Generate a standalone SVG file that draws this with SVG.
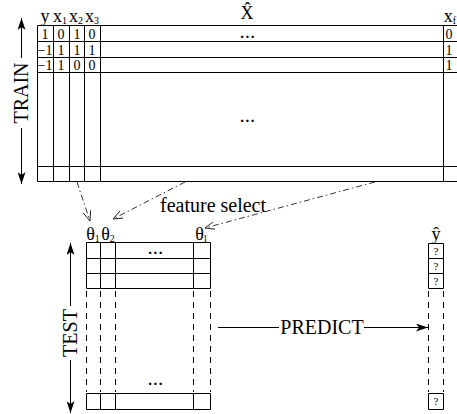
<svg xmlns="http://www.w3.org/2000/svg" width="457" height="414" viewBox="0 0 457 414">
<defs>
<marker id="ah" viewBox="0 0 12 8" refX="12" refY="4" markerWidth="12" markerHeight="8" markerUnits="userSpaceOnUse" orient="auto">
<path d="M0,0 L12,4 L0,8 L3,4 Z" fill="#000"/>
</marker>
<marker id="av" viewBox="0 0 10 8" refX="10" refY="4" markerWidth="10" markerHeight="8" markerUnits="userSpaceOnUse" orient="auto">
<path d="M0,0 L10,4 L0,8" fill="none" stroke="#000" stroke-width="0.8"/>
</marker>
</defs>
<style>
.g{stroke:#000;stroke-width:1;fill:none}
.d{stroke:#000;stroke-width:1;fill:none;stroke-dasharray:6,5}
.dd{stroke:#000;stroke-width:0.8;fill:none;stroke-dasharray:6,3,1.5,3}
.a{stroke:#000;stroke-width:1;fill:none;marker-end:url(#ah)}
text{font-family:"Liberation Serif","Times New Roman",serif;fill:#000}
.h{font-size:18px;text-anchor:middle}
.n{font-size:14px;text-anchor:middle}
.e{font-size:15px;font-weight:bold;text-anchor:middle;letter-spacing:1.5px}
.q{font-size:11px;text-anchor:middle}
.l{font-size:20px}
.s{font-size:10px}
</style>

<g id="train">
<path class="g" d="M37.5,25.5 H457 M37.5,41.5 H457 M37.5,57.5 H457 M37.5,72.5 H457 M37.5,166.5 H457 M37.5,181.5 H457"/>
<path class="g" d="M37.5,25.5 V181.5 M53.5,25.5 V181.5 M69.5,25.5 V181.5 M84.5,25.5 V181.5 M100.5,25.5 V181.5 M443.5,25.5 V181.5"/>
<text class="h" x="45" y="22" font-family="Liberation Serif, serif">y</text>
<text class="h" x="60" y="22" font-family="Liberation Serif, serif">x<tspan class="s" dy="2">1</tspan></text>
<text class="h" x="76" y="22" font-family="Liberation Serif, serif">x<tspan class="s" dy="2">2</tspan></text>
<text class="h" x="92" y="22" font-family="Liberation Serif, serif">x<tspan class="s" dy="2">3</tspan></text>
<text class="h" x="450" y="22" font-family="Liberation Serif, serif">x<tspan class="s" dy="2">f</tspan></text>
<text class="h" x="247" y="19" font-family="Liberation Serif, serif">X̂</text>
<text class="e" x="248" y="38" font-family="Liberation Serif, serif">...</text>
<text class="e" x="248" y="122" font-family="Liberation Serif, serif">...</text>
<text class="n" x="45" y="39">1</text><text class="n" x="61" y="39">0</text><text class="n" x="77" y="39">1</text><text class="n" x="92" y="39">0</text><text class="n" x="449" y="39">0</text>
<text class="n" x="45" y="55">−1</text><text class="n" x="61" y="55">1</text><text class="n" x="77" y="55">1</text><text class="n" x="92" y="55">1</text><text class="n" x="449" y="55">1</text>
<text class="n" x="45" y="70">−1</text><text class="n" x="61" y="70">1</text><text class="n" x="77" y="70">0</text><text class="n" x="92" y="70">0</text><text class="n" x="449" y="70">1</text>
</g>

<g id="train-label">
<line class="a" x1="21.5" y1="58" x2="21.5" y2="18"/>
<line class="a" x1="21.5" y1="128" x2="21.5" y2="184"/>
<text class="l" transform="translate(28,93) rotate(-90)" text-anchor="middle" font-family="Liberation Serif, serif">TRAIN</text>
</g>

<g id="test">
<path class="g" d="M86.5,242.5 H210.5 M86.5,258.5 H210.5 M86.5,273.5 H210.5 M86.5,288.5 H210.5 M86.5,393.5 H210.5 M86.5,409.5 H210.5"/>
<path class="g" d="M86.5,242.5 V288.5 M100.5,242.5 V288.5 M115.5,242.5 V288.5 M193.5,242.5 V288.5 M210.5,242.5 V288.5"/>
<path class="g" d="M86.5,393.5 V409.5 M100.5,393.5 V409.5 M115.5,393.5 V409.5 M193.5,393.5 V409.5 M210.5,393.5 V409.5"/>
<path class="d" d="M86.5,291 V392 M100.5,291 V392 M115.5,291 V392 M193.5,291 V392 M210.5,291 V392"/>
<text class="h" x="93" y="240" font-family="Liberation Serif, serif">θ<tspan class="s" dy="2">1</tspan></text>
<text class="h" x="108" y="240" font-family="Liberation Serif, serif">θ<tspan class="s" dy="2">2</tspan></text>
<text class="h" x="201" y="240" font-family="Liberation Serif, serif">θ<tspan class="s" dy="2">l</tspan></text>
<text class="e" x="156" y="254" font-family="Liberation Serif, serif">...</text>
<text class="e" x="156" y="385" font-family="Liberation Serif, serif">...</text>
</g>

<g id="test-label">
<line class="a" x1="70.5" y1="306" x2="70.5" y2="243"/>
<line class="a" x1="70.5" y1="360" x2="70.5" y2="413"/>
<text class="l" transform="translate(77,333) rotate(-90)" text-anchor="middle" font-family="Liberation Serif, serif">TEST</text>
</g>

<g id="yhat">
<path class="g" d="M428.5,243.5 H443.5 M428.5,258.5 H443.5 M428.5,273.5 H443.5 M428.5,288.5 H443.5 M428.5,393.5 H443.5 M428.5,409.5 H443.5"/>
<path class="g" d="M428.5,243.5 V288.5 M443.5,243.5 V288.5 M428.5,393.5 V409.5 M443.5,393.5 V409.5"/>
<path class="d" d="M428.5,291 V392 M443.5,291 V392"/>
<text class="h" x="436" y="240" font-family="Liberation Serif, serif">ŷ</text>
<text class="q" x="436" y="255">?</text>
<text class="q" x="436" y="270">?</text>
<text class="q" x="436" y="285">?</text>
<text class="q" x="436" y="405">?</text>
</g>

<g id="connectors">
<line class="dd" x1="77" y1="182" x2="90" y2="221" marker-end="url(#av)"/>
<line class="dd" x1="185" y1="182" x2="113" y2="219" marker-end="url(#av)"/>
<line class="dd" x1="375" y1="182" x2="205" y2="228" marker-end="url(#av)"/>
<text x="160" y="212" class="l" font-family="Liberation Serif, serif">feature select</text>
<line class="g" x1="218" y1="327.5" x2="279" y2="327.5"/>
<line class="a" x1="364" y1="327.5" x2="428" y2="327.5"/>
<text x="322" y="334" class="l" text-anchor="middle" font-family="Liberation Serif, serif">PREDICT</text>
</g>
</svg>
